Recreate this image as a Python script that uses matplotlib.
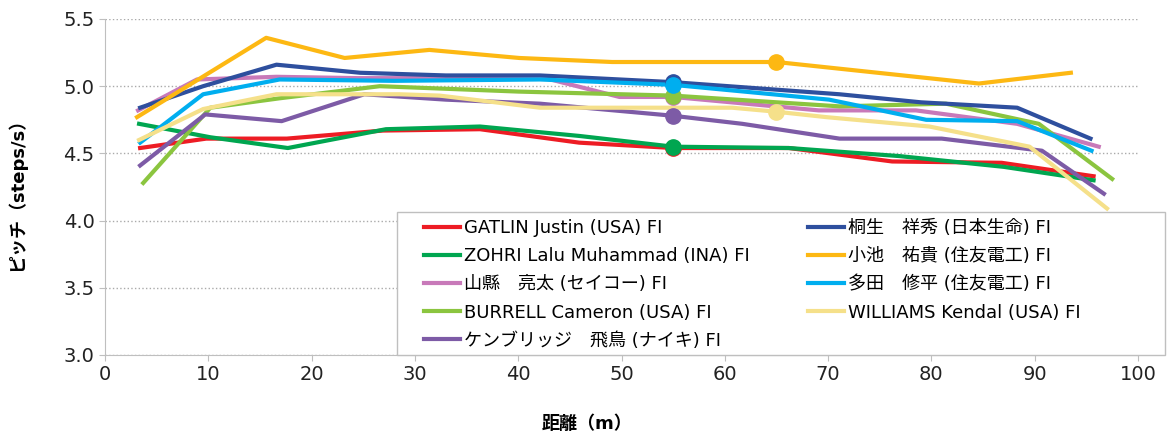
import matplotlib
matplotlib.use("Agg")
from matplotlib import pyplot as plt
from matplotlib.patches import Rectangle

plt.rcParams['font.family'] = ['DejaVu Sans', 'Noto Sans CJK JP']

names = ["GATLIN Justin (USA) FI", "ZOHRI Lalu Muhammad (INA) FI", "山縣\u3000亮太 (セイコー) FI",
         "BURRELL Cameron (USA) FI", "ケンブリッジ\u3000飛鳥 (ナイキ) FI", "桐生\u3000祥秀 (日本生命) FI",
         "小池\u3000祐貴 (住友電工) FI", "多田\u3000修平 (住友電工) FI", "WILLIAMS Kendal (USA) FI"]
colors = ['#ED1C24', '#00A650', '#C879B9', '#8BC53F', '#7D5BA6', '#2E4F9E', '#FDB813', '#00AEEF', '#F5E08A']

gatlin_x = [3.4, 9.8, 17.6, 26.9, 36.3, 45.9, 55.0, 66.2, 76.2, 86.8, 95.7]
gatlin_y = [4.54, 4.61, 4.61, 4.67, 4.68, 4.58, 4.54, 4.54, 4.44, 4.43, 4.33]
zohri_x = [3.3, 10.2, 17.7, 27.2, 36.3, 45.9, 55.0, 66.2, 76.9, 87.0, 95.7]
zohri_y = [4.72, 4.62, 4.54, 4.68, 4.70, 4.63, 4.55, 4.54, 4.48, 4.40, 4.30]
yamagata_x = [3.2, 8.9, 16.6, 24.5, 33.0, 42.1, 49.8, 55.0, 69.1, 78.5, 88.3, 96.2]
yamagata_y = [4.82, 5.05, 5.07, 5.06, 5.06, 5.07, 4.92, 4.92, 4.82, 4.82, 4.72, 4.55]
burrell_x = [3.7, 10.2, 16.9, 26.6, 40.0, 55.0, 71.1, 81.4, 90.4, 97.5]
burrell_y = [4.28, 4.84, 4.91, 5.00, 4.96, 4.93, 4.85, 4.87, 4.72, 4.31]
kembridge_x = [3.4, 9.7, 17.1, 25.1, 33.0, 42.1, 55.0, 61.7, 71.1, 81.0, 90.7, 96.7]
kembridge_y = [4.41, 4.79, 4.74, 4.94, 4.90, 4.87, 4.78, 4.72, 4.61, 4.61, 4.52, 4.20]
kiryu_x = [3.4, 9.5, 16.6, 24.7, 33.0, 42.1, 55.0, 71.1, 79.0, 88.3, 95.4]
kiryu_y = [4.84, 5.00, 5.16, 5.10, 5.08, 5.08, 5.03, 4.94, 4.88, 4.84, 4.61]
koike_x = [3.1, 15.6, 23.2, 31.4, 40.1, 49.1, 65.0, 84.6, 93.5]
koike_y = [4.77, 5.36, 5.21, 5.27, 5.21, 5.18, 5.18, 5.02, 5.10]
tada_x = [3.4, 9.5, 16.9, 28.0, 42.1, 55.0, 70.1, 79.5, 88.3, 95.5]
tada_y = [4.58, 4.94, 5.05, 5.04, 5.05, 5.01, 4.90, 4.75, 4.74, 4.52]
williams_x = [3.3, 9.5, 16.6, 28.5, 32.4, 42.1, 54.3, 60.7, 65.0, 69.8, 79.8, 89.5, 97.0]
williams_y = [4.60, 4.83, 4.94, 4.94, 4.93, 4.84, 4.84, 4.84, 4.81, 4.77, 4.70, 4.55, 4.09]

mark_x = [55, 55, 55, 55, 55, 55, 65, 55, 65]
mark_y = [4.54, 4.55, 4.92, 4.93, 4.78, 5.03, 5.18, 5.01, 4.81]

series = [(gatlin_x, gatlin_y), (zohri_x, zohri_y), (yamagata_x, yamagata_y), (burrell_x, burrell_y),
          (kembridge_x, kembridge_y), (kiryu_x, kiryu_y), (koike_x, koike_y), (tada_x, tada_y),
          (williams_x, williams_y)]

W, H = 1168, 443
fig = plt.figure(figsize=(W / 100, H / 100), dpi=100)
ax = fig.add_axes([105 / W, 1 - 355 / H, 1033 / W, 336 / H])

handles = []
for i, (xs, ys) in enumerate(series):
    ln, = ax.plot(xs, ys, color=colors[i], lw=3, label=names[i], zorder=3 + i)
    handles.append(ln)
    ax.plot([mark_x[i]], [mark_y[i]], 'o', color=colors[i], ms=11, zorder=20 + i)

ax.set_xlim(0, 100)
ax.set_ylim(3.0, 5.5)
ax.set_xticks(range(0, 101, 10))
ax.set_yticks([3.0, 3.5, 4.0, 4.5, 5.0, 5.5])
ax.set_yticklabels(["3.0", "3.5", "4.0", "4.5", "5.0", "5.5"])
ax.yaxis.grid(True, linestyle=':', color='#AAAAAA', lw=1)
ax.set_axisbelow(True)
for s in ['top', 'right']:
    ax.spines[s].set_visible(False)
for s in ['left', 'bottom']:
    ax.spines[s].set_color('#BFBFBF')
ax.tick_params(colors='#BFBFBF', labelcolor='#222222', labelsize=14, length=4)

ax.set_ylabel("ピッチ（steps/s）", fontsize=13, fontweight='bold')
ax.yaxis.set_label_coords(-0.076, 0.49)
ax.set_xlabel("距離（m）", fontsize=13, fontweight='bold')
ax.xaxis.set_label_coords(0.467, -0.18)

# legend box drawn by hand, the two columns as two frameless legends
fig.patches.append(Rectangle((397 / W, 1 - 355 / H), 768 / W, 143 / H, transform=fig.transFigure,
                             facecolor='white', edgecolor='#BFBFBF', lw=1, zorder=30))
for cols, x0 in [(range(0, 5), 424), (range(5, 9), 808)]:
    lg = fig.legend([handles[k] for k in cols], [names[k] for k in cols], loc='upper left',
                    bbox_to_anchor=(x0 / W, 1 - 219 / H), frameon=False, fontsize=13,
                    handlelength=2.0, handletextpad=0.2, labelspacing=0.565, borderpad=0,
                    borderaxespad=0)
    lg.set_zorder(31)

fig.savefig("out.png", dpi=100)
